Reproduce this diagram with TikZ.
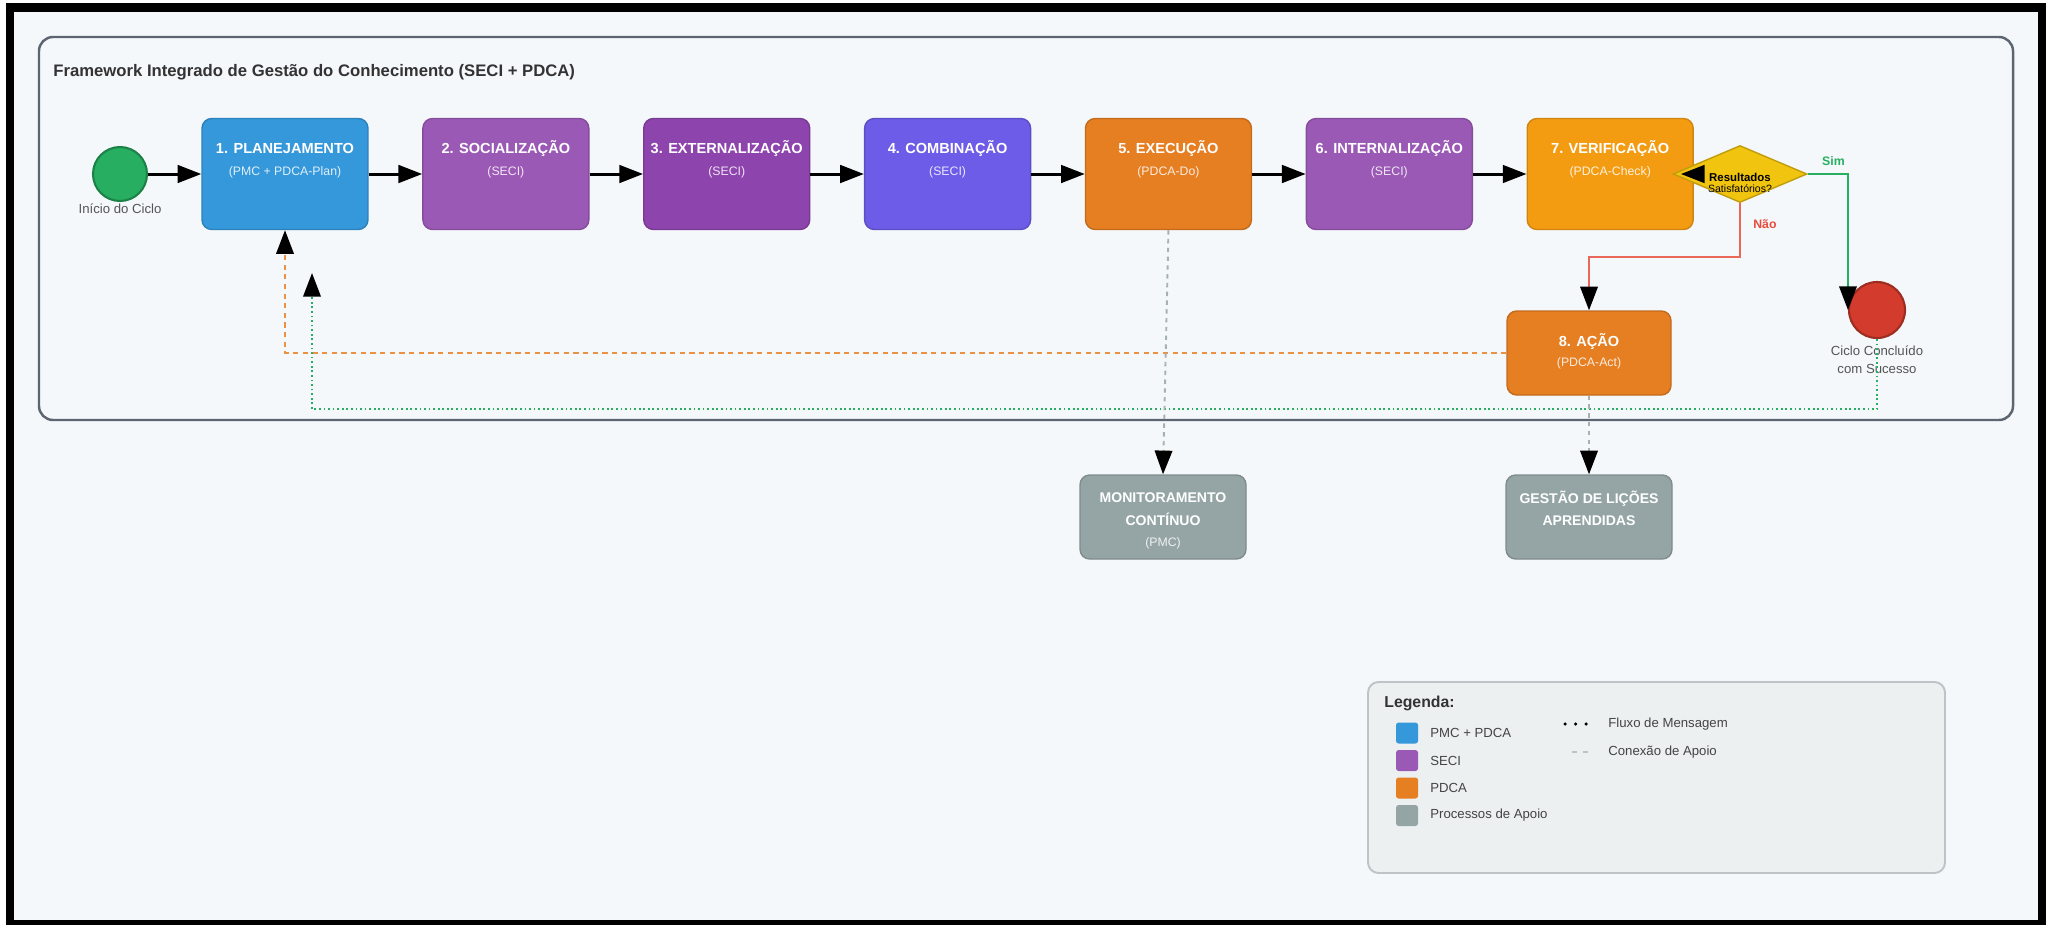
\documentclass[tikz,border=0pt]{standalone}
\usepackage{fontspec}
\setmainfont{Liberation Sans}
\usetikzlibrary{positioning,shapes.geometric,arrows.meta,calc}

\definecolor{cfundo}{HTML}{F5F8FB}
\definecolor{cmoldura}{HTML}{5D6670}
\definecolor{ctitulo}{HTML}{333333}
\definecolor{ctexto}{HTML}{555555}
\definecolor{cpmc}{HTML}{3498DB}
\definecolor{cseci}{HTML}{9B59B6}
\definecolor{cseciesc}{HTML}{8E44AD}
\definecolor{canil}{HTML}{6C5CE7}
\definecolor{cpdca}{HTML}{E67E22}
\definecolor{cverif}{HTML}{F39C12}
\definecolor{capoio}{HTML}{95A5A6}
\definecolor{cdec}{HTML}{F1C40F}
\definecolor{cverde}{HTML}{27AE60}
\definecolor{cverm}{HTML}{E74C3C}
\definecolor{cfim}{HTML}{D33C2C}
\definecolor{clegfundo}{HTML}{ECF0F1}
\definecolor{clegborda}{HTML}{BDC3C7}
\definecolor{clegtx}{HTML}{444444}

\begin{document}
\begin{tikzpicture}[x=0.02cm,y=-0.02cm,
		etapa/.style={draw=#1!85!black,fill=#1,line width=0.8pt,rounded corners=5.5pt,
			minimum width=3.32cm,minimum height=2.22cm,inner sep=0pt},
		tit/.style={text=white,font=\fontsize{8.3}{10}\selectfont\bfseries,
			text height=6pt,text depth=0pt,inner sep=0pt},
		tit2/.style={text=white,font=\fontsize{8}{12.8}\selectfont\bfseries,align=center,inner sep=0pt},
		sub/.style={text=white,text opacity=0.85,font=\fontsize{7}{8}\selectfont,
			text height=5pt,text depth=0pt,inner sep=0pt},
		etq/.style 2 args={label={[tit,yshift=0.51cm]center:{#1}},
			label={[sub,yshift=0.05cm]center:{#2}}},
		marco/.style={circle,draw=#1!75!black,fill=#1,line width=1.2pt,inner sep=0pt},
		rot/.style={text=ctexto,font=\fontsize{7.5}{10.25}\selectfont,align=center,inner sep=0pt},
		decisao/.style={diamond,draw=cdec!80!black,fill=cdec,line width=0.8pt,
			minimum width=2.68cm,minimum height=1.14cm,inner sep=0pt},
		ponta/.style={-{Triangle[length=13.5pt,width=10pt,color=black,fill=black]}},
		fluxo/.style={ponta,draw=black,line width=1.7pt},
		ramo/.style={ponta,draw=#1,line width=1.1pt},
		ramotx/.style={text=#1,font=\fontsize{7}{8}\selectfont\bfseries,inner sep=1pt},
		retorno/.style={ponta,draw=cpdca!85!white,line width=1.1pt,dash pattern=on 3pt off 2.5pt},
		sucesso/.style={ponta,draw=cverde,line width=1.1pt,dash pattern=on 1pt off 1.6pt},
		apoiolin/.style={ponta,draw=capoio!85!white,line width=1.1pt,dash pattern=on 2.5pt off 2.5pt},
		legtx/.style={text=clegtx,font=\fontsize{7.5}{9}\selectfont,inner sep=0pt,anchor=west}
	]
	\useasboundingbox (0,0) rectangle (2047,924);
	\fill[white] (0,0) rectangle (2047,924);
	\fill[cfundo] (10,7) rectangle (2042,924);
	\draw[black,line width=4.6pt] (10,7.5) rectangle (2042,924);
	%
	\draw[cmoldura,line width=1.4pt,fill=cfundo,rounded corners=8pt] (39,37) rectangle (2013,420);
	\node[anchor=west,inner sep=0pt,text=ctitulo,font=\fontsize{9.5}{11}\selectfont\bfseries]
		(titulo) at (53,72) {Framework Integrado de Gestão do Conhecimento (SECI + PDCA)};
	%
	\node[marco=cverde,minimum size=1.08cm,label={[rot,label distance=1pt]below:{Início do Ciclo}}]
		(ini) at (120,174) {};
	\node[etapa=cpmc,etq={1. PLANEJAMENTO}{(PMC + PDCA-Plan)}] (plan) at (285,174) {};
	\node[etapa=cseci,etq={2. SOCIALIZAÇÃO}{(SECI)},right=1.07cm of plan] (soc) {};
	\node[etapa=cseciesc,etq={3. EXTERNALIZAÇÃO}{(SECI)},right=1.07cm of soc] (ext) {};
	\node[etapa=canil,etq={4. COMBINAÇÃO}{(SECI)},right=1.07cm of ext] (comb) {};
	\node[etapa=cpdca,etq={5. EXECUÇÃO}{(PDCA-Do)},right=1.07cm of comb] (exec) {};
	\node[etapa=cseci,etq={6. INTERNALIZAÇÃO}{(SECI)},right=1.07cm of exec] (inter) {};
	\node[etapa=cverif,etq={7. VERIFICAÇÃO}{(PDCA-Check)},right=1.07cm of inter] (verif) {};
	\node[decisao,label={[font=\fontsize{6}{6.6}\selectfont,align=center,inner sep=0pt,yshift=-0.18cm]center:{{\fontsize{6.5}{6.6}\selectfont\bfseries Resultados}\\Satisfatórios?}}]
		(dec) at (1740,174) {};
	\node[marco=cfim,minimum size=1.12cm,label={[rot,label distance=3.5pt]below:{Ciclo Concluído\\com Sucesso}}]
		(fim) at (1877,310) {};
	\node[etapa=cpdca,minimum width=3.28cm,minimum height=1.68cm,
		label={[tit,yshift=0.24cm]center:{8. AÇÃO}},label={[sub,yshift=-0.18cm]center:{(PDCA-Act)}}]
		(acao) at (1589,353) {};
	\node[etapa=capoio,minimum height=1.68cm,
		label={[tit2,yshift=0.16cm]center:{MONITORAMENTO\\CONTÍNUO}},label={[sub,yshift=-0.51cm]center:{(PMC)}}]
		(mon) at (1163,517) {};
	\node[etapa=capoio,minimum height=1.68cm,
		label={[tit2,yshift=0.17cm]center:{GESTÃO DE LIÇÕES\\APRENDIDAS}}]
		(lic) at (1589,517) {};
	\coordinate (okend) at (312,273);
	%
	\foreach \a/\b in {ini/plan,plan/soc,soc/ext,ext/comb,comb/exec,exec/inter,inter/verif}
		\draw[fluxo] (\a) -- (\b);
	\draw[fluxo] ([xshift=0.5cm]dec.west) -- ([xshift=-0.26cm]verif.east);
	\draw[ramo=cverde] (dec.east) -| node[pos=0.32,above=3pt,ramotx=cverde]{Sim} (fim.west);
	\draw[ramo=cverm!85!white] (dec.south) |- node[pos=0.2,right=6pt,ramotx=cverm]{Não}
		($(dec.south)!0.5!(acao.north)$) -| (acao.north);
	\draw[retorno] (acao.west) -| (plan.south);
	\draw[sucesso] (fim.south) -- ++(0,70) -| (okend);
	\draw[apoiolin] (exec.south) -- (mon.north);
	\draw[apoiolin] (acao.south) -- (lic.north);
	%
	\draw[clegborda,line width=1.1pt,fill=clegfundo,rounded corners=6pt] (1368,682) rectangle (1945,873);
	\node[anchor=west,inner sep=0pt,text=ctitulo,font=\fontsize{9}{11}\selectfont\bfseries] (leg) at (1384,703) {Legenda:};
	\foreach \cor/\txt [count=\i] in {cpmc/PMC + PDCA,cseci/SECI,cpdca/PDCA,capoio/Processos de Apoio} {
		\fill[\cor,rounded corners=1.5pt] (1396,695+27.5*\i) rectangle ++(22,21);
		\node[legtx] at (1430,705.5+27.5*\i) {\txt};
	}
	\draw[black,line width=2pt,line cap=round,dash pattern=on 0pt off 6pt] (1565,724) -- (1590,724);
	\node[legtx] at (1608,724) {Fluxo de Mensagem};
	\draw[clegborda,line width=1.4pt,dash pattern=on 3pt off 3pt] (1572,752) -- (1592,752);
	\node[legtx] at (1608,752) {Conexão de Apoio};
\end{tikzpicture}
\end{document}
